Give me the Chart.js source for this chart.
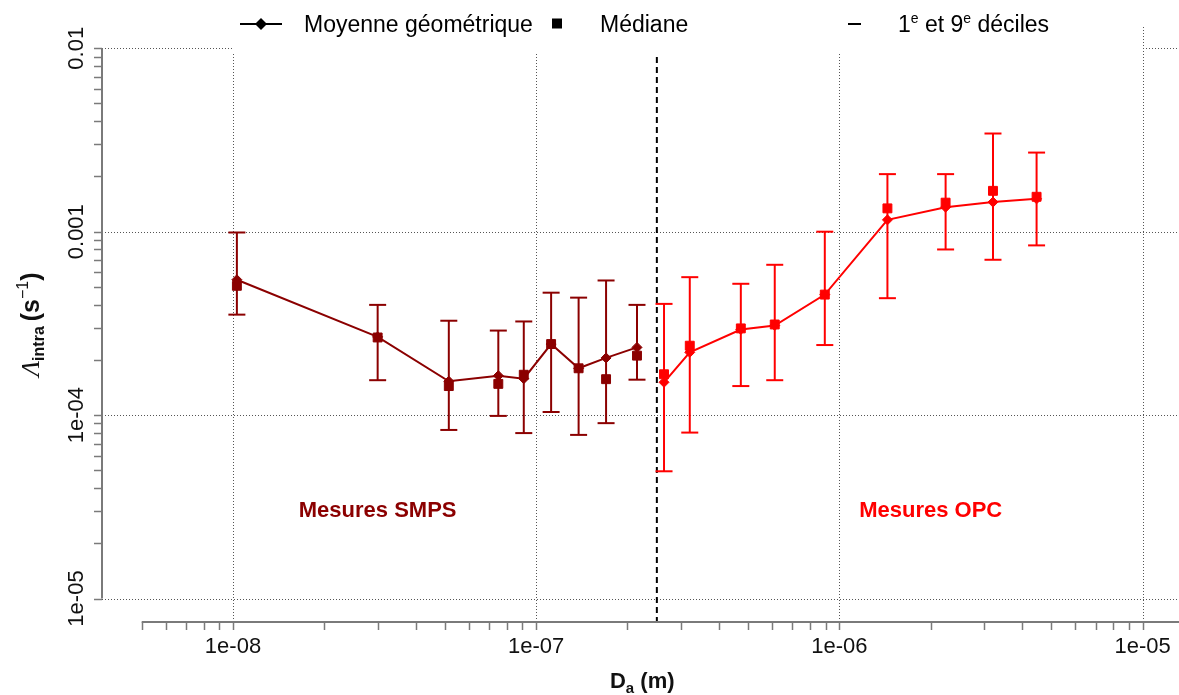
<!DOCTYPE html>
<html>
<head>
<meta charset="utf-8">
<script src="https://cdn.jsdelivr.net/npm/chart.js@4.4.1/dist/chart.umd.min.js"></script>
<style>
  html, body { margin: 0; padding: 0; background: #fff; }
  #wrap { width: 1179px; height: 695px; }
</style>
</head>
<body>
<div id="wrap"><canvas id="c" width="1179" height="695"></canvas></div>
<script>
// SMPS size channels: aerodynamic diameter (m)
const smpsDiameters = [1.03e-8, 3.0e-8, 5.15e-8, 7.5e-8, 9.1e-8, 1.12e-7, 1.38e-7, 1.7e-7, 2.15e-7];
// SMPS: geometric mean, median, 1st and 9th deciles of Lambda_intra (s^-1)
const smpsMean   = [5.47e-4, 2.67e-4, 1.53e-4, 1.64e-4, 1.58e-4, 2.44e-4, 1.80e-4, 2.05e-4, 2.34e-4];
const smpsMedian = [5.07e-4, 2.65e-4, 1.44e-4, 1.48e-4, 1.66e-4, 2.44e-4, 1.80e-4, 1.57e-4, 2.11e-4];
const smpsD1     = [3.53e-4, 1.55e-4, 8.3e-5, 9.9e-5, 7.98e-5, 1.04e-4, 7.8e-5, 9.04e-5, 1.56e-4];
const smpsD9     = [9.9e-4, 3.99e-4, 3.27e-4, 2.89e-4, 3.24e-4, 4.65e-4, 4.37e-4, 5.42e-4, 3.99e-4];

// OPC size channels: aerodynamic diameter (m)
const opcDiameters = [2.64e-7, 3.21e-7, 4.73e-7, 6.12e-7, 8.95e-7, 1.44e-6, 2.24e-6, 3.21e-6, 4.47e-6];
const opcMean   = [1.51e-4, 2.20e-4, 2.93e-4, 3.08e-4, 4.54e-4, 1.16e-3, 1.36e-3, 1.45e-3, 1.51e-3];
const opcMedian = [1.67e-4, 2.39e-4, 2.97e-4, 3.12e-4, 4.54e-4, 1.34e-3, 1.44e-3, 1.67e-3, 1.55e-3];
const opcD1     = [4.94e-5, 8.03e-5, 1.44e-4, 1.55e-4, 2.41e-4, 4.34e-4, 8.0e-4, 7.03e-4, 8.42e-4];
const opcD9     = [4.04e-4, 5.65e-4, 5.2e-4, 6.6e-4, 1.0e-3, 2.06e-3, 2.06e-3, 3.43e-3, 2.7e-3];

// Boundary between the two instruments (m)
const cutDiameter = 2.5e-7;

// Axis ticks
const xTickValues = [1e-8, 1e-7, 1e-6, 1e-5];
const xTickLabels = ['1e-08', '1e-07', '1e-06', '1e-05'];
const yTickValues = [1e-5, 1e-4, 1e-3, 1e-2];
const yTickLabels = ['1e-05', '1e-04', '0.001', '0.01'];
const xAxisFrom = 5e-9;

// Instrument labels and their anchor (diameter, Lambda)
const zoneLabels = ['Mesures SMPS', 'Mesures OPC'];
const zoneAnchorsX = [3e-8, 2e-6];
const zoneAnchorsY = [3e-5, 3e-5];

const DARK = '#8B0000';
const RED = '#FF0000';
const FONT = '"Liberation Sans", Arial, sans-serif';

const pts = (xs, ys) => xs.map((v, i) => ({ x: v, y: ys[i] }));

function minorTicks(lo, hi) {
  const out = [];
  for (let e = Math.floor(Math.log10(lo)); e <= Math.ceil(Math.log10(hi)); e++) {
    for (let m = 1; m <= 9; m++) {
      const v = m * Math.pow(10, e);
      if (v >= lo * 0.999 && v <= hi * 1.001) out.push(v);
    }
  }
  return out;
}

function seg(ctx, x1, y1, x2, y2) {
  ctx.beginPath(); ctx.moveTo(x1, y1); ctx.lineTo(x2, y2); ctx.stroke();
}

const decor = {
  id: 'decor',
  beforeDatasetsDraw(chart) {
    const { ctx, chartArea: a, scales: { x, y } } = chart;
    ctx.save();
    // dotted grid at each decade
    ctx.strokeStyle = '#555';
    ctx.lineWidth = 1;
    ctx.setLineDash([1, 2]);
    xTickValues.forEach(v => {
      const px = Math.round(x.getPixelForValue(v)) + 0.5;
      seg(ctx, px, a.top, px, a.bottom);
    });
    yTickValues.forEach(v => {
      const py = Math.round(y.getPixelForValue(v)) + 0.5;
      seg(ctx, a.left, py, chart.width, py);
    });
    // instrument boundary
    ctx.setLineDash([6, 4]);
    ctx.strokeStyle = '#000';
    ctx.lineWidth = 2;
    const cx = x.getPixelForValue(cutDiameter);
    seg(ctx, cx, a.top, cx, a.bottom);
    ctx.setLineDash([]);

    // decile bars
    const bars = [[smpsDiameters, smpsD1, smpsD9, DARK], [opcDiameters, opcD1, opcD9, RED]];
    bars.forEach(([ds, lo, hi, col]) => {
      ctx.strokeStyle = col;
      ctx.lineWidth = 2;
      ds.forEach((d, i) => {
        const px = x.getPixelForValue(d);
        const pTop = y.getPixelForValue(hi[i]);
        const pBot = y.getPixelForValue(lo[i]);
        seg(ctx, px, pTop, px, pBot);
        seg(ctx, px - 8.5, pTop, px + 8.5, pTop);
        seg(ctx, px - 8.5, pBot, px + 8.5, pBot);
      });
    });
    ctx.restore();
  },
  afterDatasetsDraw(chart) {
    const { ctx, scales: { x, y } } = chart;
    ctx.save();
    // zone labels
    ctx.font = 'bold 22px ' + FONT;
    ctx.textAlign = 'center';
    ctx.textBaseline = 'middle';
    zoneLabels.forEach((t, i) => {
      ctx.fillStyle = i === 0 ? DARK : RED;
      ctx.fillText(t, x.getPixelForValue(zoneAnchorsX[i]), y.getPixelForValue(zoneAnchorsY[i]));
    });
    ctx.restore();
  },
  afterDraw(chart) {
    const { ctx, chartArea: a, scales: { x, y } } = chart;
    ctx.save();
    const axisCol = '#7a7a7a';

    // x axis
    ctx.strokeStyle = axisCol;
    ctx.lineWidth = 2;
    seg(ctx, x.getPixelForValue(xAxisFrom), a.bottom, chart.width, a.bottom);
    ctx.lineWidth = 1.5;
    minorTicks(xAxisFrom, 1e-5).forEach(v => {
      const px = Math.round(x.getPixelForValue(v)) + 0.5;
      seg(ctx, px, a.bottom, px, a.bottom + 8);
    });
    ctx.fillStyle = '#111';
    ctx.font = '22px ' + FONT;
    ctx.textAlign = 'center';
    ctx.textBaseline = 'alphabetic';
    xTickValues.forEach((v, i) => ctx.fillText(xTickLabels[i], x.getPixelForValue(v), a.bottom + 31));

    // y axis
    ctx.strokeStyle = axisCol;
    ctx.lineWidth = 2;
    seg(ctx, a.left, y.getPixelForValue(1e-2), a.left, y.getPixelForValue(1e-5));
    ctx.lineWidth = 1.5;
    minorTicks(1e-5, 1e-2).forEach(v => {
      const py = Math.round(y.getPixelForValue(v)) + 0.5;
      seg(ctx, a.left - 8, py, a.left, py);
    });
    yTickValues.forEach((v, i) => {
      ctx.save();
      ctx.translate(a.left - 19, y.getPixelForValue(v));
      ctx.rotate(-Math.PI / 2);
      ctx.fillText(yTickLabels[i], 0, 0);
      ctx.restore();
    });

    // x title: D_a (m)
    const bigB = 'bold 22px ' + FONT, subB = 'bold 15px ' + FONT;
    ctx.textAlign = 'left';
    const xParts = [['D', bigB, 0], ['a', subB, 5], [' (m)', bigB, 0]];
    let wx = 0;
    xParts.forEach(p => { ctx.font = p[1]; wx += ctx.measureText(p[0]).width; });
    let cxp = (a.left + a.right + 3.5) / 2 - wx / 2;
    xParts.forEach(p => {
      ctx.font = p[1];
      ctx.fillText(p[0], cxp, 688 + p[2]);
      cxp += ctx.measureText(p[0]).width;
    });

    // y title: Lambda_intra (s^-1)
    ctx.save();
    ctx.translate(39, (a.top + a.bottom) / 2);
    ctx.rotate(-Math.PI / 2);
    const yParts = [
      ['\u039B', 'italic 26px "Liberation Serif", serif', 0],
      ['intra', 'bold 16px ' + FONT, 5],
      ['\u2009(s', 'bold 25px ' + FONT, 0],
      ['\u22121', '16px ' + FONT, -11],
      [')', 'bold 25px ' + FONT, 0]
    ];
    let wy = 0;
    yParts.forEach(p => { ctx.font = p[1]; wy += ctx.measureText(p[0]).width; });
    let cyp = -wy / 2;
    yParts.forEach(p => {
      ctx.font = p[1];
      ctx.fillText(p[0], cyp, p[2]);
      cyp += ctx.measureText(p[0]).width;
    });
    ctx.restore();

    // legend
    ctx.fillStyle = '#fff';
    ctx.fillRect(233, 0, 1141 - 233, 54);
    ctx.fillStyle = '#000';
    ctx.strokeStyle = '#000';
    ctx.lineWidth = 2;
    seg(ctx, 240, 24, 282, 24);
    ctx.beginPath();
    ctx.moveTo(261, 18); ctx.lineTo(267, 24); ctx.lineTo(261, 30); ctx.lineTo(255, 24); ctx.closePath();
    ctx.fill();
    ctx.fillRect(552, 18.5, 10, 10);
    seg(ctx, 848, 24, 861, 24);
    ctx.font = '23px ' + FONT;
    ctx.textAlign = 'left';
    ctx.fillText('Moyenne g\u00e9om\u00e9trique', 304, 32);
    ctx.fillText('M\u00e9diane', 600, 32);
    const lg = [['1', 0, 23], ['e', -9, 14], [' et 9', 0, 23], ['e', -9, 14], [' d\u00e9ciles', 0, 23]];
    let lx = 898;
    lg.forEach(p => {
      ctx.font = p[2] + 'px ' + FONT;
      ctx.fillText(p[0], lx, 32 + p[1]);
      lx += ctx.measureText(p[0]).width;
    });
    ctx.restore();
  }
};

const ds = (label, data, color, style, radius, line) => ({
  label,
  data,
  showLine: line,
  borderColor: color,
  backgroundColor: color,
  borderWidth: 2,
  pointStyle: style,
  pointRadius: radius,
  pointBorderWidth: 1,
  pointBackgroundColor: color,
  pointBorderColor: color,
  tension: 0
});

new Chart(document.getElementById('c'), {
  type: 'scatter',
  data: {
    datasets: [
      ds('Moyenne géométrique SMPS', pts(smpsDiameters, smpsMean), DARK, 'rectRot', 5, true),
      ds('Médiane SMPS', pts(smpsDiameters, smpsMedian), DARK, 'rect', 6.3, false),
      ds('Moyenne géométrique OPC', pts(opcDiameters, opcMean), RED, 'rectRot', 5, true),
      ds('Médiane OPC', pts(opcDiameters, opcMedian), RED, 'rect', 6.3, false)
    ]
  },
  options: {
    responsive: false,
    animation: false,
    devicePixelRatio: 1,
    events: [],
    layout: { autoPadding: false, padding: { left: 102, top: 27, right: 0, bottom: 73 } },
    plugins: { legend: { display: false }, tooltip: { enabled: false } },
    scales: {
      x: { type: 'logarithmic', display: false, bounds: 'data', min: Math.pow(10, -8.432), max: Math.pow(10, -4.880) },
      y: { type: 'logarithmic', display: false, bounds: 'data', min: Math.pow(10, -5.128), max: Math.pow(10, -1.884) }
    }
  },
  plugins: [decor]
});
</script>
</body>
</html>
